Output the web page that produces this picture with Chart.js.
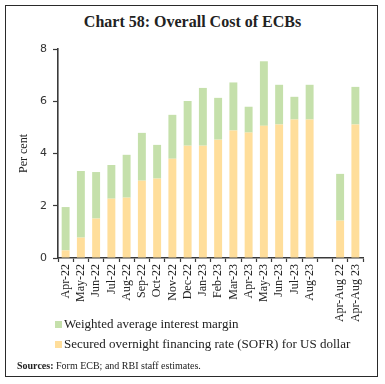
<!DOCTYPE html>
<html>
<head>
<meta charset="utf-8">
<script src="https://cdn.jsdelivr.net/npm/chart.js@4"></script>
<style>
  html, body { margin: 0; padding: 0; background: #fff; }
  #wrap { position: relative; width: 385px; height: 384px; overflow: hidden; }
  #frame { position: absolute; left: 5px; top: 5px; width: 371px; height: 370px; border: 1.5px solid #2a2a2a; }
  #title { position: absolute; left: 0; width: 385px; top: 13px; text-align: center;
           font-family: "Liberation Serif", serif; font-weight: bold; font-size: 16px; color: #222; }
  #chart { position: absolute; left: 0; top: 0; }
  #legend { position: absolute; left: 55px; top: 315px; font-family: "Liberation Serif", serif; font-size: 13px; color: #222; }
  .li { height: 20px; line-height: 18px; white-space: nowrap; }
  .sw { display: inline-block; width: 7px; height: 7px; margin-right: 2px; vertical-align: 0px; }
  #sources { position: absolute; left: 17px; top: 360px; font-family: "Liberation Serif", serif; font-size: 10px; color: #222; }
</style>
</head>
<body>
<div id="wrap">
  <div id="frame"></div>
  <div id="title">Chart 58: Overall Cost of ECBs</div>
  <canvas id="chart" width="385" height="384"></canvas>
  <div id="legend"></div>
  <div id="sources"><b>Sources:</b> Form ECB; and RBI staff estimates.</div>
</div>
<script>
const categories = ['Apr-22','May-22','Jun-22','Jul-22','Aug-22','Sep-22','Oct-22','Nov-22','Dec-22',
  'Jan-23','Feb-23','Mar-23','Apr-23','May-23','Jun-23','Jul-23','Aug-23','','Apr-Aug 22','Apr-Aug 23'];
const sofrValues = [0.29,0.78,1.51,2.27,2.31,2.96,3.04,3.80,4.30,4.30,4.53,4.88,4.80,5.06,5.11,5.30,5.30,null,1.43,5.11];
const marginValues = [1.66,2.55,1.78,1.29,1.64,1.83,1.29,1.68,1.71,2.21,1.60,1.84,0.99,2.47,1.52,0.87,1.33,null,1.79,1.44];
const yTicks = [0,2,4,6,8];
const seriesNames = ['Weighted average interest margin','Secured overnight financing rate (SOFR) for US dollar'];
const colors = { margin: 'rgb(197,224,171)', sofr: 'rgb(255,222,155)' };

const axisColor = '#3a3a3a';
new Chart(document.getElementById('chart'), {
  type: 'bar',
  data: {
    labels: categories,
    datasets: [
      { label: seriesNames[1], data: sofrValues, backgroundColor: colors.sofr, barPercentage: 0.52, categoryPercentage: 1 },
      { label: seriesNames[0], data: marginValues, backgroundColor: colors.margin, barPercentage: 0.52, categoryPercentage: 1 }
    ]
  },
  options: {
    responsive: false,
    animation: false,
    devicePixelRatio: 1,
    layout: { padding: { top: 49, right: 22, bottom: 0, left: 0 } },
    plugins: { legend: { display: false }, tooltip: { enabled: false } },
    scales: {
      x: {
        stacked: true,
        offset: true,
        afterFit: s => { s.height = 126; },
        grid: { display: true, drawOnChartArea: false, offset: true, tickLength: 4, color: axisColor, tickWidth: 1.2 },
        border: { display: true, color: axisColor, width: 1.6 },
        ticks: { autoSkip: false, maxRotation: 90, minRotation: 90, padding: 2, color: '#222',
                 font: { family: 'Liberation Serif', size: 12 } }
      },
      y: {
        stacked: true,
        min: 0, max: 8,
        afterFit: s => { s.width = 58; },
        afterBuildTicks: s => { s.ticks = yTicks.map(v => ({ value: v })); },
        grid: { display: true, drawOnChartArea: false, tickLength: 5, color: axisColor, tickWidth: 1.2 },
        border: { display: true, color: axisColor, width: 1.6 },
        ticks: { padding: 6, color: '#333', font: { family: 'DejaVu Sans', size: 11 } },
        title: { display: true, text: 'Per cent', color: '#222', padding: { top: 17, bottom: 0 },
                 font: { family: 'Liberation Serif', size: 12 } }
      }
    }
  }
});

const legend = document.getElementById('legend');
[[seriesNames[0], colors.margin], [seriesNames[1], colors.sofr]].forEach(([name, c]) => {
  const d = document.createElement('div'); d.className = 'li';
  const s = document.createElement('span'); s.className = 'sw'; s.style.background = c;
  d.appendChild(s); d.appendChild(document.createTextNode(name));
  legend.appendChild(d);
});
</script>
</body>
</html>
